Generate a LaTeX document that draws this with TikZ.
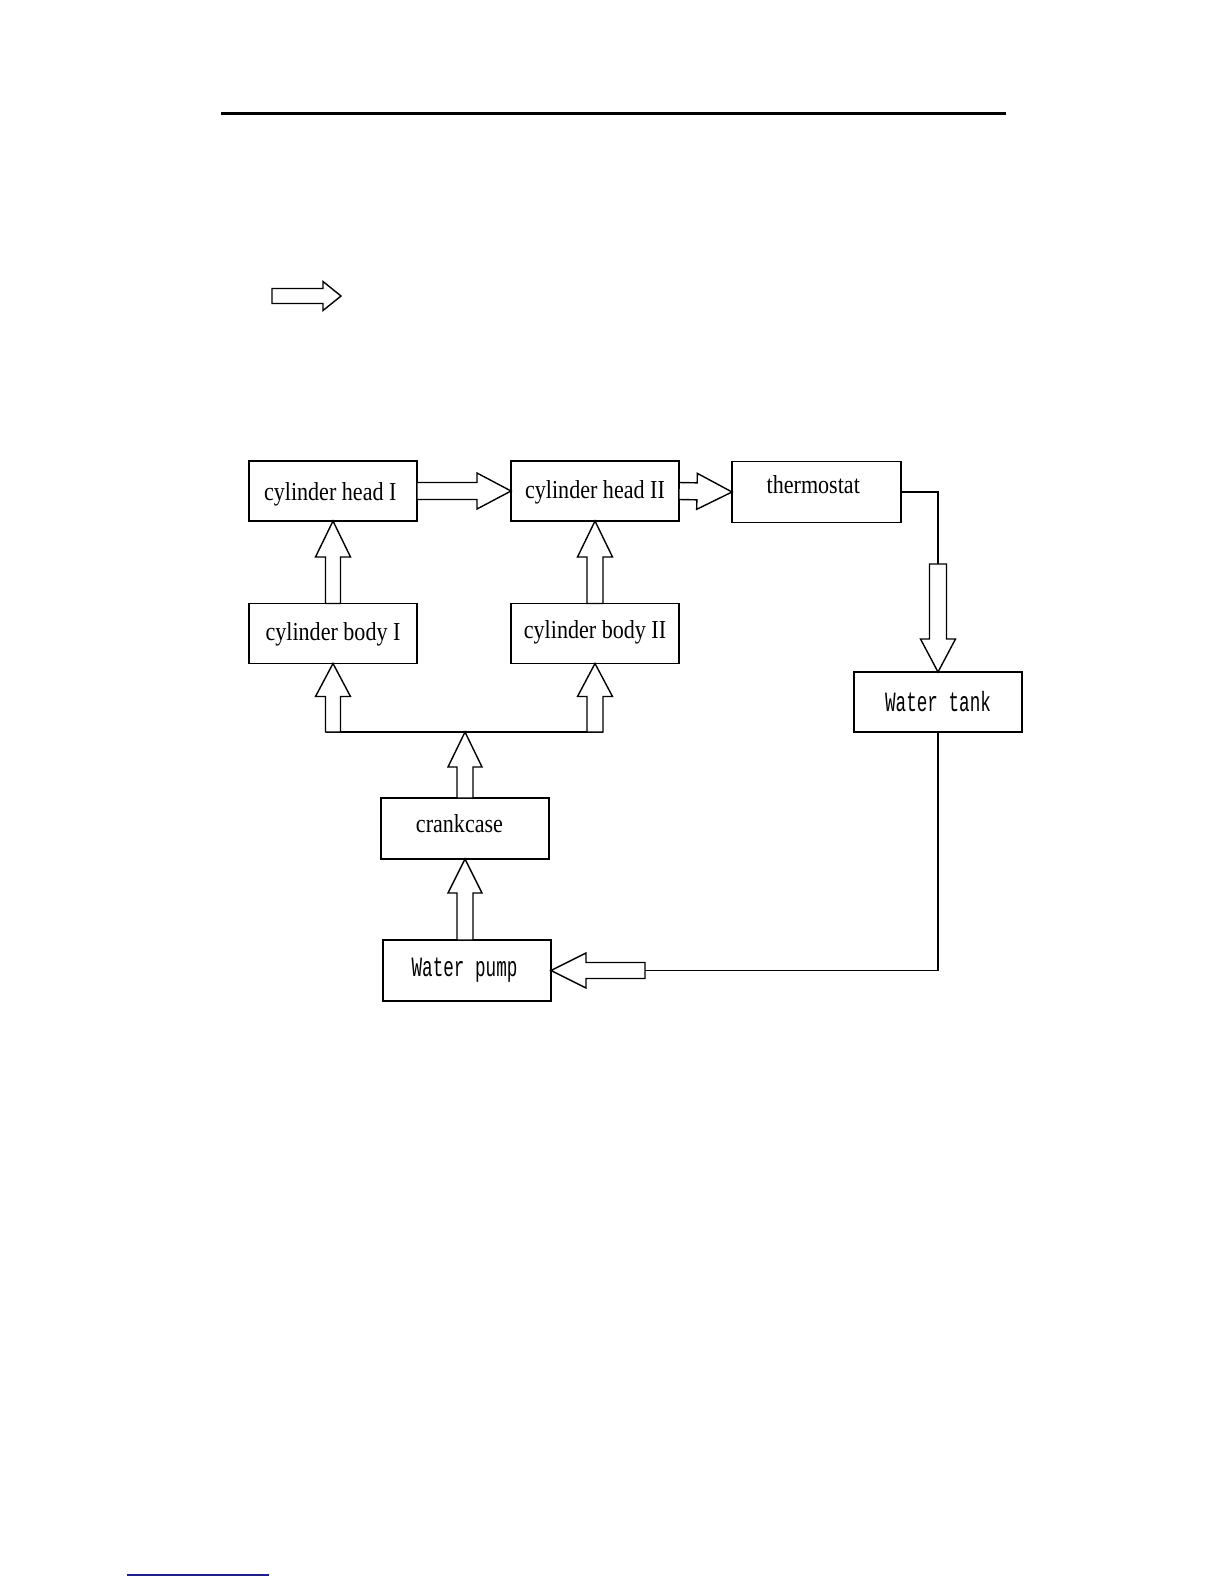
\documentclass[tikz,border=0pt]{standalone}
\usepackage{fontspec}
\setmainfont{Liberation Serif}
\newfontfamily\monofam{Liberation Mono}
\usetikzlibrary{calc}
\definecolor{navyline}{RGB}{30,30,140}
\tikzset{
  box/.style={draw, line width=1.4pt, minimum width=168pt, minimum height=60pt,
    inner sep=0pt, outer sep=0pt, font=\fontsize{24}{28}\selectfont, text depth=0pt},
  blockline/.style={draw, line width=1.4pt, line join=miter, fill=white},
  link/.style={line width=1.4pt},
}
\newcommand\sertext[1]{\scalebox{0.92}[1.08]{#1}}
\newcommand\montext[1]{\scalebox{0.98}[1.55]{\monofam\fontsize{18}{20}\selectfont #1}}
% tail, tip, shaft half width, head half width, head length
\newcommand\blockarrow[5]{%
  \path ($(#2)!#5!(#1)$) coordinate (hbase);
  \draw[blockline] ($(#1)!#3!90:(#2)$) -- ($(hbase)!#3!90:(#2)$) -- ($(hbase)!#4!90:(#2)$)
    -- (#2) -- ($(hbase)!#4!-90:(#2)$) -- ($(hbase)!#3!-90:(#2)$) -- ($(#1)!#3!-90:(#2)$) -- cycle;}
\begin{document}
\begin{tikzpicture}[x=1pt,y=-1pt]
\useasboundingbox (0,0) rectangle (1224,1584);
% header rule
\coordinate (ruleL) at (221,114);
\coordinate (ruleR) at (1006,114);
\draw[line width=3pt] (ruleL) -- (ruleR);
% legend arrow
\coordinate (legA) at (272,296);
\coordinate (legB) at (341,296);
\blockarrow{legA}{legB}{7.5pt}{14.5pt}{18pt}
% boxes
\node[box, text height=18pt] (h1) at (333,491) {\sertext{cylinder head I\hspace{6pt}}};
\node[box, text height=14pt] (h2) at (595,491) {\sertext{cylinder head II}};
\node[box, text height=3pt, minimum width=169pt, minimum height=61pt] (th) at (816.5,492) {\sertext{thermostat\hspace{7pt}}};
\node[box, text height=13pt] (b1) at (333,633.5) {\sertext{cylinder body I}};
\node[box, text height=9pt] (b2) at (595,633.5) {\sertext{cylinder body II}};
\node[box, text height=18pt] (tk) at (938,702) {\montext{Water tank}};
\node[box, text height=7pt, minimum height=61pt] (ck) at (465,828.5) {\sertext{crankcase\hspace{12pt}}};
\node[box, text height=11pt, minimum height=61pt] (wp) at (467,970.5) {\montext{Water pump\hspace{5pt}}};
% helper points
\coordinate (junc) at ($(ck.north)+(0,-66)$);
\coordinate (j1) at (b1.south |- junc);
\coordinate (j2) at (b2.south |- junc);
\coordinate (tkin) at ($(tk.north)+(0,-108)$);
\coordinate (wpin) at ($(wp.east)+(94,0)$);
\coordinate (wpup) at (ck.south |- wp.north);
% plain lines
\draw[link] ($(j1)+(-7.5,0)$) -- ($(j2)+(8,0)$);
\draw[link] (th.east) -| (tkin);
\draw[link] (tk.south) |- (wpin);
% block arrows
\blockarrow{h1.east}{h2.west}{8.5pt}{18pt}{34pt}
\blockarrow{h2.east}{th.west}{8.5pt}{18pt}{35pt}
\blockarrow{b1.north}{h1.south}{7.5pt}{17.5pt}{36pt}
\blockarrow{b2.north}{h2.south}{8pt}{17.5pt}{36pt}
\blockarrow{j1}{b1.south}{7.5pt}{17.5pt}{33pt}
\blockarrow{j2}{b2.south}{8pt}{17.5pt}{33pt}
\blockarrow{ck.north}{junc}{8pt}{17pt}{35pt}
\blockarrow{wpup}{ck.south}{8pt}{17pt}{34pt}
\blockarrow{tkin}{tk.north}{8.5pt}{17.5pt}{33pt}
\blockarrow{wpin}{wp.east}{8pt}{17.5pt}{35pt}
% footnote rule
\coordinate (footL) at (127,1575);
\coordinate (footR) at (269,1575);
\draw[navyline, line width=1.3pt] (footL) -- (footR);
\end{tikzpicture}
\end{document}
